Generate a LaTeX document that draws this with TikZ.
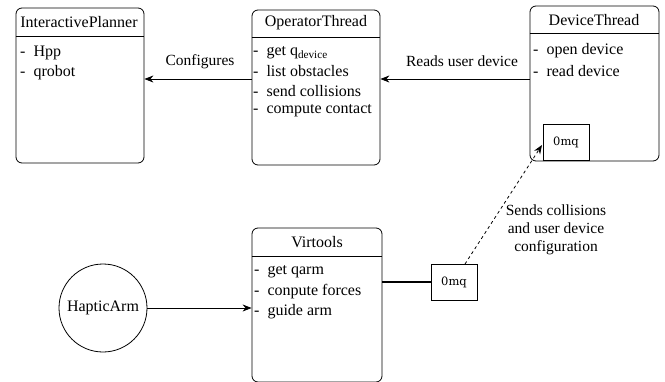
\documentclass[tikz,border=0pt]{standalone}
\usepackage{fontspec}
\setmainfont{Liberation Serif}
\newfontfamily\zmqfont{DejaVu Serif}
\usetikzlibrary{arrows.meta}
\begin{document}
\begin{tikzpicture}[x=1pt,y=-1pt,
  classbox/.style={draw,rounded corners=6pt,line width=0.8pt,inner sep=0pt},
  title/.style={font=\fontsize{16}{18}\selectfont,inner sep=0pt},
  item/.style={font=\fontsize{16}{18}\selectfont,anchor=west,inner sep=0pt},
  lbl/.style={font=\fontsize{15.5}{18}\selectfont,inner sep=0pt,align=center},
  zmq/.style={draw,line width=0.8pt,font=\zmqfont\fontsize{11.5}{13}\selectfont,minimum width=46pt,minimum height=36pt,inner sep=0pt},
  conn/.style={line width=0.8pt,-{Stealth[length=9pt,width=7pt]}}]
\useasboundingbox (0,0) rectangle (665,381);
% InteractivePlanner
\node[classbox,minimum width=128pt,minimum height=155pt] (IP) at (80,85.5) {};
\node[title] (IPt) at (79,22) {InteractivePlanner};
\draw[line width=0.8pt] (IP.west |- 0,36) -- (IP.east |- 0,36);
\node[item] (IP1) at (20,53) {-\ \ Hpp};
\node[item] (IP2) at (20,73) {-\ \ qrobot};
% OperatorThread
\node[classbox,minimum width=128pt,minimum height=155pt] (OT) at (316,87.5) {};
\node[title] (OTt) at (316,23) {OperatorThread};
\draw[line width=0.8pt] (OT.west |- 0,37) -- (OT.east |- 0,37);
\node[item] (OT1) at (253,53) {-\ \ get q\textsubscript{device}};
\node[item] (OT2) at (253,71) {-\ \ list obstacles};
\node[item] (OT3) at (253,91) {-\ \ send collisions};
\node[item] (OT4) at (253,111) {-\ \ compute contact};
% DeviceThread
\node[classbox,minimum width=129pt,minimum height=155pt] (DT) at (594.5,83.5) {};
\node[title] (DTt) at (594,20) {DeviceThread};
\draw[line width=0.8pt] (DT.west |- 0,33) -- (DT.east |- 0,33);
\node[item] (DT1) at (533,51) {-\ \ open device};
\node[item] (DT2) at (533,71) {-\ \ read device};
\node[zmq] (Z1) at (566,142) {0mq};
\draw[line width=1.6pt] (Z1.south west) -- (Z1.south east);
% Virtools
\node[classbox,minimum width=130pt,minimum height=154pt] (VT) at (317,305) {};
\node[title] (VTt) at (317,242) {Virtools};
\draw[line width=0.8pt] (VT.west |- 0,256) -- (VT.east |- 0,256);
\node[item] (VT1) at (254,272) {-\ \ get qarm};
\node[item] (VT2) at (254,292) {-\ \ conpute forces};
\node[item] (VT3) at (254,312) {-\ \ guide arm};
\node[zmq] (Z2) at (454,282) {0mq};
% HapticArm
\node[draw,circle,line width=0.8pt,minimum size=88pt,inner sep=0pt,font=\fontsize{16}{18}\selectfont] (HA) at (103,308) {HapticArm};
% connectors
\draw[conn] (OT.west |- 0,79) -- (IP.east |- 0,79);
\node[lbl] (Lc) at (200,62) {Configures};
\draw[conn] (DT.west |- 0,79) -- (OT.east |- 0,79);
\node[lbl] (Lr) at (462,61) {Reads user device};
\draw[conn] (HA.east) -- (VT.west |- HA.east);
\draw[line width=1.6pt] (VT.east |- Z2.west) -- (Z2.west);
\coordinate (Zs) at (465,264);
\coordinate (Dt) at (542,145);
\draw[conn,dashed] (Zs) -- (Dt);
\node[lbl] (Ls) at (556,230) {Sends collisions\\and user device\\configuration};
\end{tikzpicture}
\end{document}
